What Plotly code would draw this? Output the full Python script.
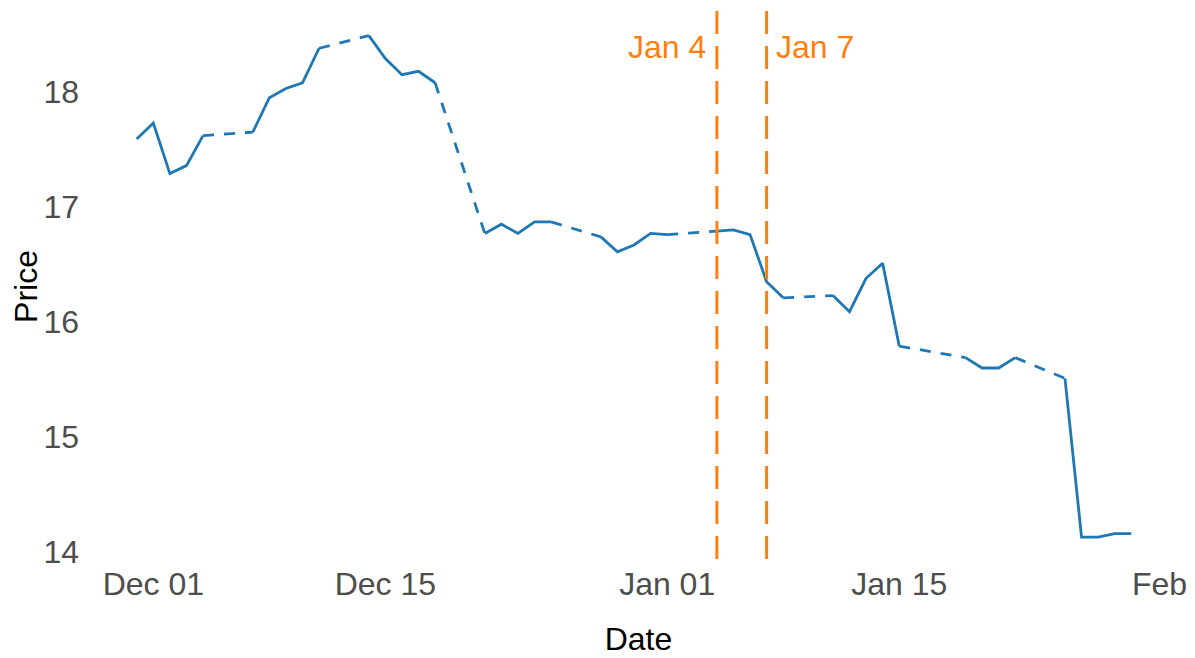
import pandas as pd
import plotly.graph_objects as go

# ---- data ----
dates = [
    "2020-11-30", "2020-12-01", "2020-12-02", "2020-12-03", "2020-12-04",
    "2020-12-07", "2020-12-08", "2020-12-09", "2020-12-10", "2020-12-11",
    "2020-12-14", "2020-12-15", "2020-12-16", "2020-12-17", "2020-12-18",
    "2020-12-21", "2020-12-22", "2020-12-23", "2020-12-24", "2020-12-25",
    "2020-12-28", "2020-12-29", "2020-12-30", "2020-12-31", "2021-01-01",
    "2021-01-04", "2021-01-05", "2021-01-06", "2021-01-07", "2021-01-08",
    "2021-01-11", "2021-01-12", "2021-01-13", "2021-01-14", "2021-01-15",
    "2021-01-19", "2021-01-20", "2021-01-21", "2021-01-22",
    "2021-01-25", "2021-01-26", "2021-01-27", "2021-01-28", "2021-01-29",
]
prices = [
    17.59, 17.73, 17.29, 17.36, 17.62,
    17.65, 17.95, 18.03, 18.08, 18.38,
    18.49, 18.29, 18.15, 18.18, 18.08,
    16.77, 16.85, 16.77, 16.87, 16.87,
    16.74, 16.61, 16.67, 16.77, 16.76,
    16.79, 16.80, 16.76, 16.35, 16.21,
    16.23, 16.09, 16.38, 16.51, 15.79,
    15.69, 15.60, 15.60, 15.69,
    15.51, 14.13, 14.13, 14.16, 14.16,
]
event_dates = ["2021-01-04", "2021-01-07"]
event_labels = ["Jan 4", "Jan 7"]

tick_vals = ["2020-12-01", "2020-12-15", "2021-01-01", "2021-01-15", "2021-01-30 17:00"]
tick_text = ["Dec 01", "Dec 15", "Jan 01", "Jan 15", "Feb"]
y_ticks = [14, 15, 16, 17, 18]

BLUE = "#1f77b4"
ORANGE = "#ff7f0e"
FONT = "Liberation Sans, Arial, Helvetica, sans-serif"
FS = 32

# ---- split into solid runs (consecutive days) and dashed gap bridges ----
d = pd.to_datetime(pd.Series(dates))
solid_x, solid_y, gap_x, gap_y = [], [], [], []
for i in range(len(d)):
    if i > 0 and (d[i] - d[i - 1]).days > 1:
        solid_x.append(None); solid_y.append(None)
        gap_x += [dates[i - 1], dates[i], None]
        gap_y += [prices[i - 1], prices[i], None]
    solid_x.append(dates[i]); solid_y.append(prices[i])

fig = go.Figure()
fig.add_trace(go.Scatter(x=gap_x, y=gap_y, mode="lines",
                         line=dict(color=BLUE, width=2.8, dash="11px,10px"),
                         connectgaps=False, showlegend=False, hoverinfo="skip"))
fig.add_trace(go.Scatter(x=solid_x, y=solid_y, mode="lines",
                         line=dict(color=BLUE, width=2.8),
                         connectgaps=False, showlegend=False))

for ed in event_dates:
    fig.add_shape(type="line", xref="x", yref="paper", x0=ed, x1=ed, y0=1, y1=0,
                  line=dict(color=ORANGE, width=3, dash="23px,12px"))
left = [True, False]
for ed, lab, lf in zip(event_dates, event_labels, left):
    fig.add_annotation(x=ed, y=0.9347, xref="x", yref="paper", text=lab,
                       showarrow=False, xanchor="right" if lf else "left",
                       yanchor="middle", xshift=-9 if lf else 7,
                       font=dict(family=FONT, size=FS, color=ORANGE))

fig.update_layout(
    width=1187, height=650,
    margin=dict(l=88, r=14, t=3, b=96, autoexpand=False),
    paper_bgcolor="white", plot_bgcolor="white",
    font=dict(family=FONT, size=FS, color="#4d4d4d"),
    xaxis=dict(range=["2020-11-27 13:00", "2021-02-01"], tickvals=tick_vals,
               ticktext=tick_text, showgrid=False, zeroline=False, showline=False,
               ticks="", automargin=False, tickfont=dict(size=FS, color="#4d4d4d"),
               title=dict(text="Date", font=dict(size=FS, color="black"), standoff=26)),
    yaxis=dict(range=[13.913, 18.704], tickvals=y_ticks,
               showgrid=False, zeroline=False, showline=False, ticks="",
               automargin=False, ticklabelstandoff=16,
               tickfont=dict(size=FS, color="#4d4d4d"),
               title=dict(text="Price", font=dict(size=FS, color="black"), standoff=0)),
)

fig.write_html("out.html")
